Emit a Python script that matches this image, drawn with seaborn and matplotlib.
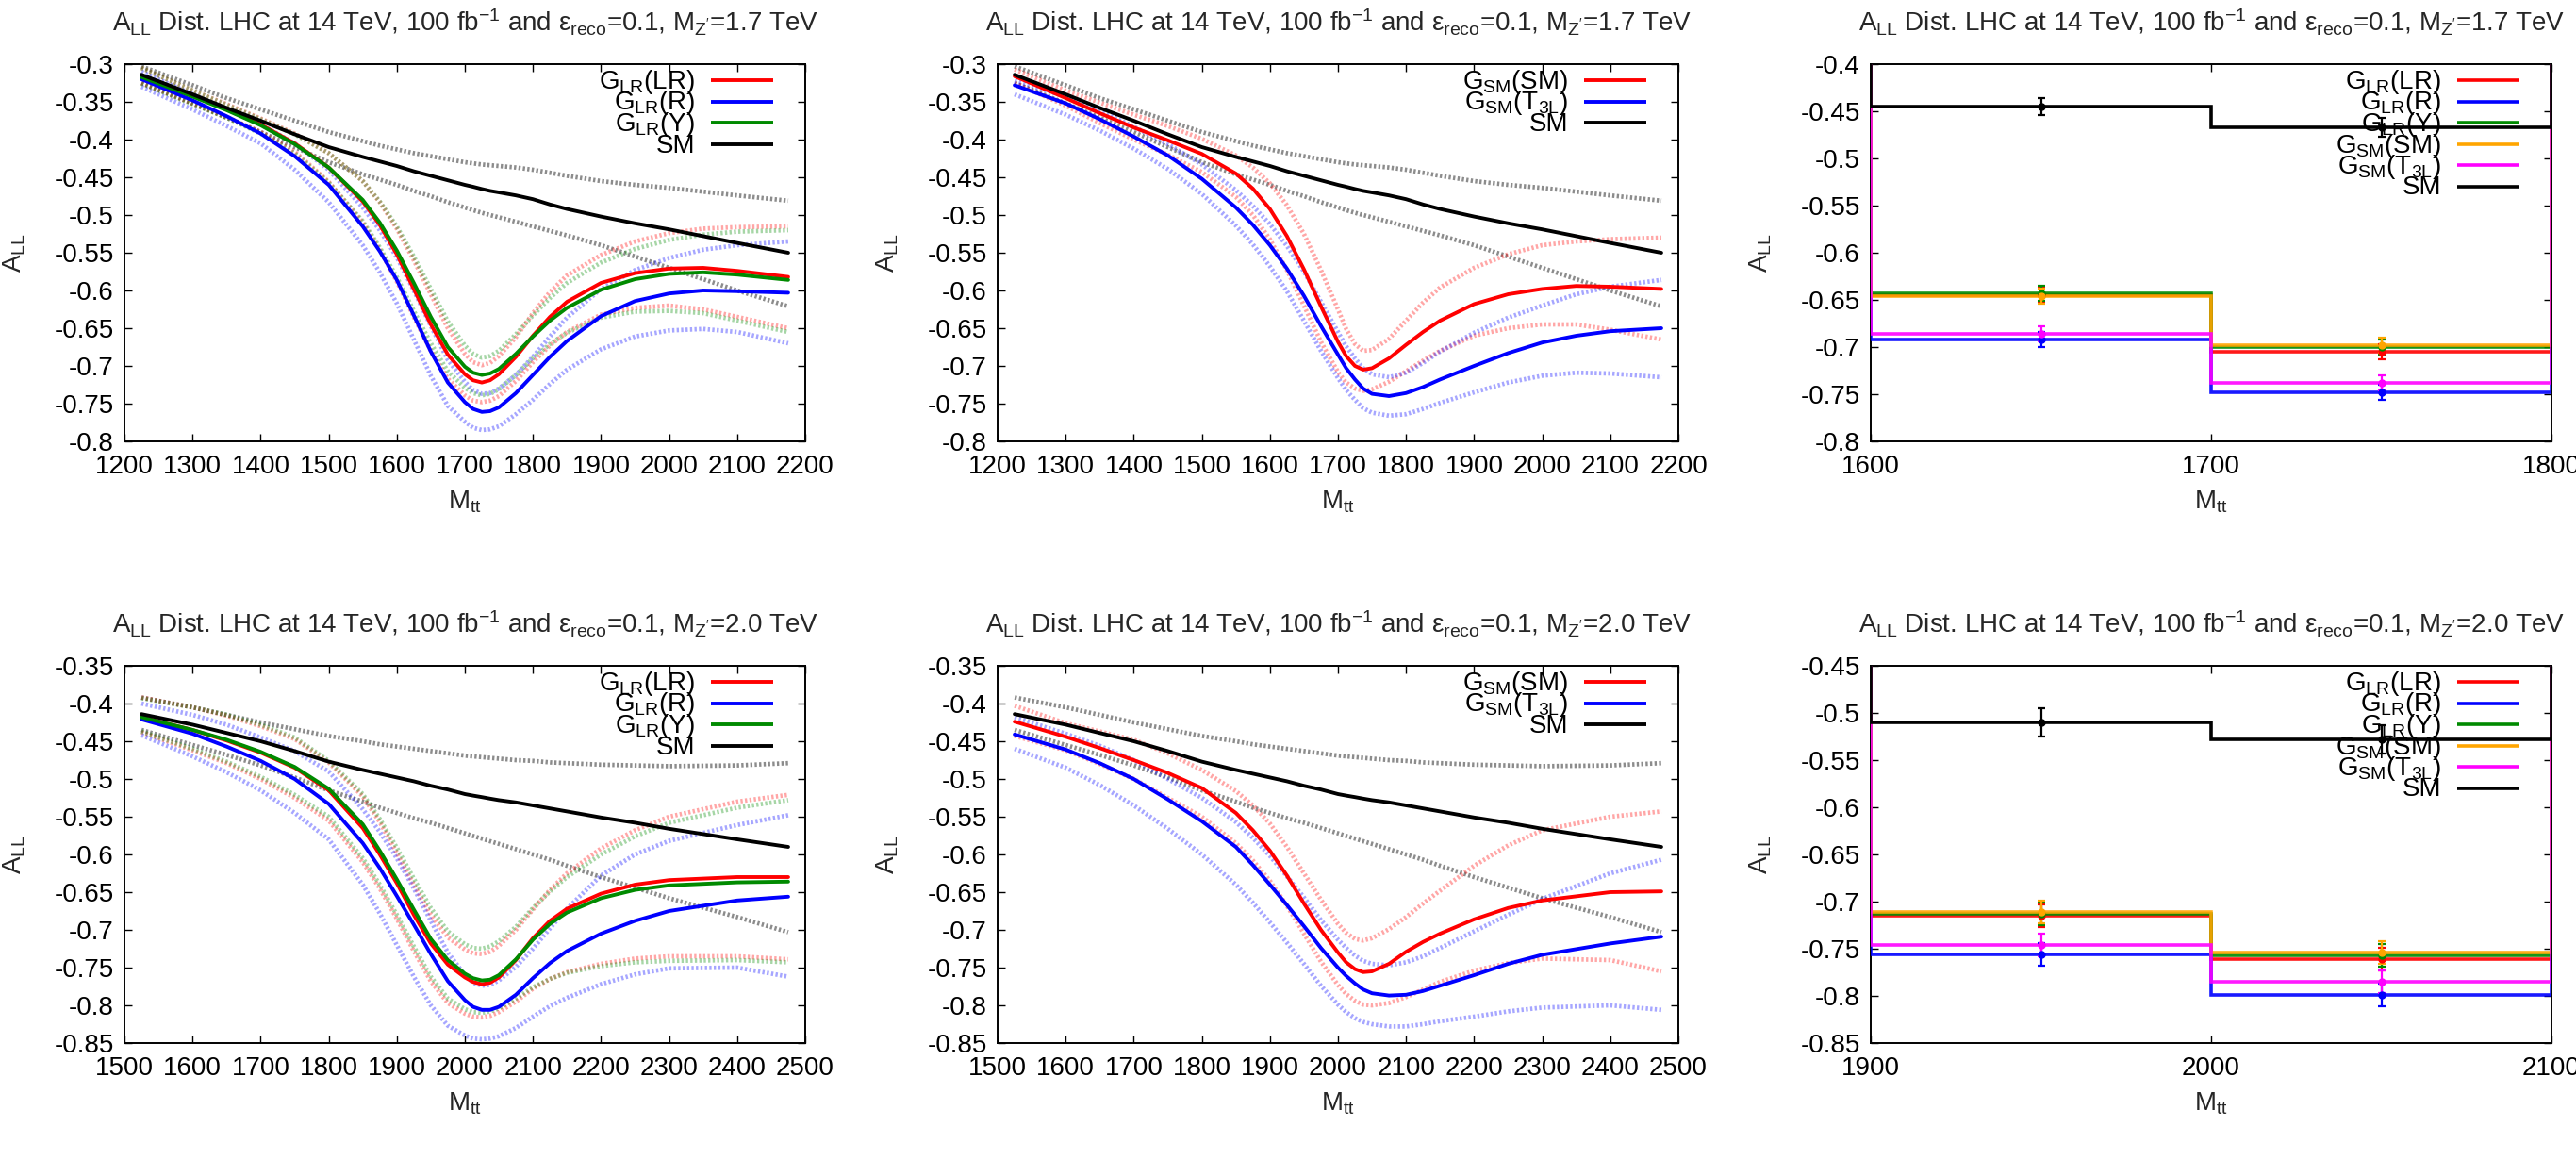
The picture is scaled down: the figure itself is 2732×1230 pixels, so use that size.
import numpy as np
import pandas as pd
import matplotlib
matplotlib.use("Agg")
import matplotlib.pyplot as plt
import seaborn as sns

# ---------------- data ----------------
mass_top = [1225, 1300, 1350, 1400, 1450, 1500, 1550, 1575, 1600, 1625, 1650, 1675, 1700, 1712,
            1725, 1737, 1750, 1775, 1800, 1825, 1850, 1900, 1950, 2000, 2050, 2100, 2175]

sm_top = [-0.314, -0.340, -0.358, -0.375, -0.393, -0.410, -0.423, -0.429, -0.435, -0.442, -0.448, -0.454, -0.460, -0.4625,
          -0.4655, -0.468, -0.470, -0.474, -0.479, -0.486, -0.492, -0.502, -0.511, -0.519, -0.528, -0.537, -0.550]
sm_top_hi = [-0.303, -0.328, -0.345, -0.360, -0.375, -0.390, -0.402, -0.408, -0.413, -0.418, -0.422, -0.426, -0.430, -0.4315,
             -0.433, -0.434, -0.435, -0.437, -0.440, -0.444, -0.448, -0.455, -0.460, -0.464, -0.469, -0.474, -0.481]
sm_top_lo = [-0.325, -0.352, -0.371, -0.390, -0.410, -0.430, -0.446, -0.453, -0.460, -0.468, -0.475, -0.483, -0.490, -0.4935,
             -0.497, -0.500, -0.503, -0.509, -0.515, -0.521, -0.527, -0.540, -0.555, -0.570, -0.585, -0.600, -0.621]

lr_top = [-0.316, -0.342, -0.360, -0.380, -0.405, -0.437, -0.482, -0.513, -0.552, -0.598, -0.645, -0.685, -0.711, -0.719,
          -0.722, -0.719, -0.711, -0.688, -0.660, -0.635, -0.615, -0.590, -0.577, -0.571, -0.570, -0.574, -0.582]
lr_top_hi = [-0.305, -0.335, -0.353, -0.372, -0.392, -0.418, -0.455, -0.483, -0.518, -0.560, -0.605, -0.650, -0.684, -0.695,
             -0.699, -0.696, -0.687, -0.662, -0.630, -0.602, -0.580, -0.553, -0.535, -0.524, -0.518, -0.516, -0.515]
lr_top_lo = [-0.325, -0.352, -0.370, -0.390, -0.416, -0.456, -0.510, -0.546, -0.588, -0.635, -0.680, -0.717, -0.739, -0.746,
             -0.748, -0.746, -0.740, -0.720, -0.695, -0.673, -0.655, -0.632, -0.623, -0.620, -0.625, -0.635, -0.650]

y_top = [-0.317, -0.343, -0.361, -0.381, -0.406, -0.437, -0.480, -0.510, -0.547, -0.590, -0.635, -0.675, -0.701, -0.709,
         -0.712, -0.710, -0.704, -0.684, -0.661, -0.640, -0.623, -0.599, -0.585, -0.578, -0.576, -0.579, -0.586]
y_top_hi = [-0.305, -0.335, -0.354, -0.373, -0.393, -0.418, -0.455, -0.482, -0.515, -0.555, -0.598, -0.641, -0.673, -0.684,
            -0.689, -0.687, -0.680, -0.658, -0.633, -0.610, -0.590, -0.563, -0.545, -0.533, -0.526, -0.522, -0.520]
y_top_lo = [-0.326, -0.353, -0.371, -0.392, -0.418, -0.457, -0.508, -0.543, -0.582, -0.627, -0.670, -0.707, -0.729, -0.736,
            -0.739, -0.737, -0.731, -0.712, -0.690, -0.671, -0.656, -0.636, -0.628, -0.627, -0.630, -0.640, -0.655]

r_top = [-0.320, -0.348, -0.369, -0.392, -0.422, -0.460, -0.515, -0.548, -0.586, -0.633, -0.681, -0.722, -0.748, -0.757,
         -0.761, -0.760, -0.755, -0.736, -0.712, -0.688, -0.667, -0.634, -0.614, -0.604, -0.600, -0.601, -0.603]
r_top_hi = [-0.310, -0.340, -0.360, -0.380, -0.405, -0.440, -0.490, -0.520, -0.556, -0.600, -0.647, -0.692, -0.721, -0.732,
            -0.737, -0.736, -0.730, -0.712, -0.688, -0.661, -0.636, -0.598, -0.573, -0.557, -0.546, -0.540, -0.535]
r_top_lo = [-0.330, -0.360, -0.382, -0.405, -0.440, -0.483, -0.540, -0.576, -0.617, -0.665, -0.713, -0.753, -0.774, -0.782,
            -0.785, -0.784, -0.780, -0.764, -0.745, -0.724, -0.705, -0.678, -0.661, -0.653, -0.651, -0.655, -0.670]

gsm_top = [-0.316, -0.345, -0.365, -0.384, -0.401, -0.419, -0.445, -0.465, -0.492, -0.528, -0.572, -0.621, -0.668, -0.687,
           -0.700, -0.705, -0.703, -0.690, -0.672, -0.655, -0.640, -0.618, -0.605, -0.598, -0.594, -0.595, -0.598]
gsm_top_hi = [-0.307, -0.335, -0.351, -0.367, -0.382, -0.399, -0.421, -0.437, -0.458, -0.487, -0.525, -0.573, -0.625, -0.651,
              -0.671, -0.680, -0.679, -0.664, -0.640, -0.616, -0.596, -0.570, -0.552, -0.540, -0.535, -0.532, -0.530]
gsm_top_lo = [-0.325, -0.355, -0.378, -0.400, -0.420, -0.443, -0.476, -0.500, -0.532, -0.573, -0.620, -0.668, -0.708, -0.722,
              -0.730, -0.733, -0.731, -0.721, -0.707, -0.693, -0.680, -0.660, -0.650, -0.645, -0.645, -0.652, -0.665]

t3l_top = [-0.328, -0.352, -0.373, -0.396, -0.421, -0.452, -0.490, -0.513, -0.540, -0.571, -0.607, -0.647, -0.685, -0.703,
           -0.718, -0.730, -0.737, -0.740, -0.736, -0.728, -0.718, -0.700, -0.683, -0.669, -0.660, -0.654, -0.650]
t3l_top_hi = [-0.322, -0.343, -0.362, -0.383, -0.406, -0.433, -0.467, -0.488, -0.512, -0.541, -0.575, -0.615, -0.655, -0.674,
              -0.690, -0.703, -0.711, -0.715, -0.709, -0.696, -0.681, -0.656, -0.636, -0.620, -0.605, -0.595, -0.586]
t3l_top_lo = [-0.340, -0.367, -0.388, -0.412, -0.439, -0.472, -0.514, -0.539, -0.568, -0.601, -0.640, -0.680, -0.716, -0.732,
              -0.745, -0.756, -0.762, -0.766, -0.764, -0.757, -0.749, -0.735, -0.722, -0.713, -0.709, -0.710, -0.715]

mass_bot = [1525, 1600, 1650, 1700, 1750, 1800, 1850, 1875, 1900, 1925, 1950, 1975, 2000,
            2012, 2025, 2037, 2050, 2075, 2100, 2125, 2150, 2200, 2250, 2300, 2400, 2475]

sm_bot = [-0.414, -0.428, -0.439, -0.450, -0.463, -0.477, -0.488, -0.493, -0.498, -0.503, -0.509, -0.514, -0.520,
          -0.522, -0.524, -0.526, -0.528, -0.531, -0.535, -0.539, -0.543, -0.551, -0.558, -0.566, -0.580, -0.590]
sm_bot_hi = [-0.392, -0.405, -0.415, -0.425, -0.434, -0.443, -0.450, -0.454, -0.457, -0.460, -0.463, -0.466, -0.469,
             -0.470, -0.471, -0.472, -0.473, -0.475, -0.476, -0.478, -0.479, -0.481, -0.482, -0.483, -0.482, -0.479]
sm_bot_lo = [-0.435, -0.455, -0.468, -0.482, -0.498, -0.515, -0.530, -0.538, -0.545, -0.552, -0.558, -0.565, -0.572,
             -0.5755, -0.579, -0.5825, -0.586, -0.593, -0.600, -0.607, -0.615, -0.630, -0.644, -0.658, -0.683, -0.703]

lr_bot = [-0.418, -0.435, -0.449, -0.465, -0.485, -0.515, -0.565, -0.600, -0.638, -0.680, -0.718, -0.746, -0.763,
          -0.769, -0.772, -0.770, -0.763, -0.740, -0.711, -0.688, -0.672, -0.652, -0.640, -0.634, -0.630, -0.630]
lr_bot_hi = [-0.392, -0.405, -0.416, -0.430, -0.447, -0.478, -0.523, -0.557, -0.598, -0.640, -0.680, -0.710, -0.726,
             -0.731, -0.732, -0.729, -0.721, -0.700, -0.673, -0.647, -0.625, -0.592, -0.568, -0.550, -0.530, -0.521]
lr_bot_lo = [-0.438, -0.462, -0.479, -0.500, -0.525, -0.555, -0.610, -0.645, -0.685, -0.728, -0.768, -0.797, -0.811,
             -0.815, -0.816, -0.814, -0.809, -0.795, -0.778, -0.765, -0.756, -0.745, -0.738, -0.735, -0.735, -0.739]

y_bot = [-0.418, -0.435, -0.448, -0.464, -0.484, -0.513, -0.560, -0.595, -0.633, -0.673, -0.712, -0.740, -0.758,
         -0.764, -0.767, -0.766, -0.760, -0.739, -0.713, -0.692, -0.677, -0.658, -0.647, -0.641, -0.637, -0.636]
y_bot_hi = [-0.393, -0.405, -0.415, -0.428, -0.445, -0.476, -0.520, -0.553, -0.591, -0.632, -0.671, -0.702, -0.719,
            -0.724, -0.725, -0.722, -0.715, -0.696, -0.671, -0.649, -0.630, -0.600, -0.576, -0.558, -0.538, -0.528]
y_bot_lo = [-0.437, -0.460, -0.477, -0.497, -0.521, -0.550, -0.605, -0.640, -0.680, -0.722, -0.762, -0.791, -0.805,
            -0.809, -0.810, -0.808, -0.804, -0.791, -0.776, -0.765, -0.757, -0.748, -0.743, -0.741, -0.740, -0.743]

r_bot = [-0.421, -0.440, -0.457, -0.476, -0.500, -0.533, -0.585, -0.618, -0.655, -0.693, -0.732, -0.768, -0.793,
         -0.802, -0.806, -0.806, -0.802, -0.786, -0.764, -0.744, -0.728, -0.705, -0.688, -0.675, -0.661, -0.656]
r_bot_hi = [-0.400, -0.415, -0.428, -0.445, -0.463, -0.490, -0.540, -0.570, -0.605, -0.645, -0.688, -0.730, -0.760,
            -0.770, -0.774, -0.773, -0.767, -0.749, -0.725, -0.698, -0.672, -0.628, -0.600, -0.582, -0.561, -0.548]
r_bot_lo = [-0.442, -0.470, -0.491, -0.515, -0.545, -0.580, -0.640, -0.678, -0.720, -0.762, -0.800, -0.827, -0.840,
            -0.844, -0.845, -0.844, -0.841, -0.830, -0.815, -0.801, -0.790, -0.772, -0.759, -0.751, -0.750, -0.762]

gsm_bot = [-0.424, -0.444, -0.459, -0.475, -0.492, -0.512, -0.545, -0.568, -0.595, -0.628, -0.665, -0.700, -0.730,
           -0.743, -0.752, -0.756, -0.755, -0.745, -0.729, -0.716, -0.705, -0.686, -0.671, -0.661, -0.650, -0.649]
gsm_bot_hi = [-0.403, -0.426, -0.437, -0.448, -0.466, -0.488, -0.516, -0.535, -0.559, -0.590, -0.625, -0.660, -0.692,
              -0.704, -0.712, -0.714, -0.711, -0.699, -0.683, -0.665, -0.648, -0.615, -0.588, -0.568, -0.550, -0.543]
gsm_bot_lo = [-0.443, -0.462, -0.480, -0.500, -0.525, -0.550, -0.585, -0.608, -0.635, -0.668, -0.705, -0.742, -0.773,
              -0.785, -0.794, -0.799, -0.800, -0.797, -0.789, -0.779, -0.769, -0.754, -0.744, -0.738, -0.740, -0.755]

t3l_bot = [-0.441, -0.461, -0.479, -0.500, -0.527, -0.556, -0.590, -0.614, -0.640, -0.667, -0.695, -0.724, -0.750,
           -0.761, -0.771, -0.779, -0.784, -0.787, -0.786, -0.781, -0.774, -0.760, -0.745, -0.733, -0.718, -0.709]
t3l_bot_hi = [-0.418, -0.440, -0.456, -0.475, -0.500, -0.525, -0.557, -0.578, -0.602, -0.629, -0.657, -0.687, -0.713,
              -0.724, -0.734, -0.741, -0.745, -0.747, -0.743, -0.735, -0.724, -0.702, -0.680, -0.659, -0.625, -0.607]
t3l_bot_lo = [-0.460, -0.485, -0.508, -0.535, -0.566, -0.600, -0.640, -0.664, -0.690, -0.717, -0.745, -0.774, -0.799,
              -0.809, -0.817, -0.822, -0.825, -0.828, -0.828, -0.825, -0.821, -0.815, -0.808, -0.803, -0.800, -0.806]

# binned A_LL (two bins per panel)
bin_edges_top = [1600, 1700, 1800]
bin_centers_top = [1650, 1750]
bin_top_lr = [-0.645, -0.705]
bin_top_r = [-0.692, -0.748]
bin_top_y = [-0.643, -0.700]
bin_top_gsm = [-0.646, -0.698]
bin_top_t3l = [-0.686, -0.738]
bin_top_sm = [-0.445, -0.467]
err_top_col = [0.008, 0.008]
err_top_sm = [0.009, 0.010]

bin_edges_bot = [1900, 2000, 2100]
bin_centers_bot = [1950, 2050]
bin_bot_lr = [-0.715, -0.761]
bin_bot_r = [-0.756, -0.799]
bin_bot_y = [-0.713, -0.757]
bin_bot_gsm = [-0.711, -0.754]
bin_bot_t3l = [-0.746, -0.785]
bin_bot_sm = [-0.510, -0.528]
err_bot_col = [0.012, 0.012]
err_bot_sm = [0.015, 0.015]

# ---------------- style ----------------
sns.set_theme(style="ticks")
plt.rcParams["font.family"] = ["Liberation Sans", "DejaVu Sans"]
plt.rcParams["mathtext.fontset"] = "custom"
plt.rcParams["mathtext.rm"] = "Liberation Sans"
plt.rcParams["mathtext.it"] = "Liberation Sans:italic"
plt.rcParams["mathtext.bf"] = "Liberation Sans:bold"
plt.rcParams["axes.unicode_minus"] = False

FS = 20
RED, BLUE, GREEN, ORANGE, MAGENTA, BLACK = "#ff0000", "#0000ff", "#008a00", "#ffa500", "#ff00ff", "#000000"

lab_lr = r"G$_\mathregular{LR}$(LR)"
lab_r = r"G$_\mathregular{LR}$(R)"
lab_y = r"G$_\mathregular{LR}$(Y)"
lab_gsm = r"G$_\mathregular{SM}$(SM)"
lab_t3l = r"G$_\mathregular{SM}$(T$_\mathregular{3L}$)"
lab_sm = "SM"

def title_for(mz):
    return (r"A$_\mathregular{LL}$ Dist. LHC at 14 TeV, 100 fb$^\mathregular{-1}$ and "
            r"ε$_\mathregular{reco}$=0.1, M$_\mathregular{Z'}$=" + mz + " TeV")

fig = plt.figure(figsize=(27.32, 12.30), dpi=100)
W, H = 2732.0, 1230.0
col_x = [132, 1058, 1984]
aw, ah = 722, 400
row_bottom = [468, 1106]

def make_ax(r, c):
    return fig.add_axes([col_x[c] / W, 1 - row_bottom[r] / H, aw / W, ah / H])

def style_ax(ax, xlim, xticks, ylim, yticks, mz):
    ax.set_xlim(*xlim)
    ax.set_ylim(*ylim)
    ax.set_xticks(xticks)
    ax.set_yticks(yticks)
    ax.set_xticklabels([f"{v:g}" for v in xticks])
    ax.set_yticklabels([f"{round(v, 3):g}" for v in yticks])
    ax.tick_params(direction="in", length=6, width=1.0, top=True, right=True,
                   labelsize=FS, colors="black")
    ax.tick_params(axis="x", pad=10)
    ax.tick_params(axis="y", pad=8)
    for s in ax.spines.values():
        s.set_linewidth(1.4)
        s.set_color("black")
        s.set_visible(True)
    ax.set_title(title_for(mz), fontsize=FS, pad=25)
    ax.set_xlabel(r"M$_\mathregular{tt}$", fontsize=FS)
    ax.set_ylabel(r"A$_\mathregular{LL}$", fontsize=FS)
    ax.xaxis.set_label_coords(0.5, -0.125)
    ax.yaxis.set_label_coords(-0.142, 0.5)
    ax.set_facecolor("white")

def legend(ax, entries, lw):
    y0 = 1 - 17 / ah
    dy = 22.5 / ah
    for i, (lab, col) in enumerate(entries):
        yy = y0 - i * dy
        ax.text(0.838, yy - 9 / ah, lab, transform=ax.transAxes, ha="right", va="baseline",
                fontsize=FS, color="black")
        ax.plot([0.861, 0.953], [yy, yy], transform=ax.transAxes, color=col, lw=lw,
                solid_capstyle="butt", clip_on=False)

def band(ax, x, y, col, alpha):
    sns.lineplot(x=x, y=y, ax=ax, color=col, lw=3.4, alpha=alpha, estimator=None,
                 linestyle=(0, (0.5, 0.5)), legend=False)

def central(ax, x, y, col):
    sns.lineplot(x=x, y=y, ax=ax, color=col, lw=2.8, estimator=None, legend=False)

# ---------- curve panels ----------
curve_panels = [
    (0, 0, mass_top, (1200, 2200), list(range(1200, 2201, 100)), (-0.8, -0.3),
     np.arange(-0.8, -0.299, 0.05), "1.7",
     [(lr_top, lr_top_hi, lr_top_lo, RED), (r_top, r_top_hi, r_top_lo, BLUE),
      (y_top, y_top_hi, y_top_lo, GREEN)],
     (sm_top, sm_top_hi, sm_top_lo),
     [(lab_lr, RED), (lab_r, BLUE), (lab_y, GREEN), (lab_sm, BLACK)]),
    (0, 1, mass_top, (1200, 2200), list(range(1200, 2201, 100)), (-0.8, -0.3),
     np.arange(-0.8, -0.299, 0.05), "1.7",
     [(gsm_top, gsm_top_hi, gsm_top_lo, RED), (t3l_top, t3l_top_hi, t3l_top_lo, BLUE)],
     (sm_top, sm_top_hi, sm_top_lo),
     [(lab_gsm, RED), (lab_t3l, BLUE), (lab_sm, BLACK)]),
    (1, 0, mass_bot, (1500, 2500), list(range(1500, 2501, 100)), (-0.85, -0.35),
     np.arange(-0.85, -0.349, 0.05), "2.0",
     [(lr_bot, lr_bot_hi, lr_bot_lo, RED), (r_bot, r_bot_hi, r_bot_lo, BLUE),
      (y_bot, y_bot_hi, y_bot_lo, GREEN)],
     (sm_bot, sm_bot_hi, sm_bot_lo),
     [(lab_lr, RED), (lab_r, BLUE), (lab_y, GREEN), (lab_sm, BLACK)]),
    (1, 1, mass_bot, (1500, 2500), list(range(1500, 2501, 100)), (-0.85, -0.35),
     np.arange(-0.85, -0.349, 0.05), "2.0",
     [(gsm_bot, gsm_bot_hi, gsm_bot_lo, RED), (t3l_bot, t3l_bot_hi, t3l_bot_lo, BLUE)],
     (sm_bot, sm_bot_hi, sm_bot_lo),
     [(lab_gsm, RED), (lab_t3l, BLUE), (lab_sm, BLACK)]),
]

for (r, c, xs, xlim, xt, ylim, yt, mz, models, sm, leg) in curve_panels:
    ax = make_ax(r, c)
    style_ax(ax, xlim, xt, ylim, yt, mz)
    band(ax, xs, sm[1], BLACK, 0.45)
    band(ax, xs, sm[2], BLACK, 0.45)
    for (cen, hi, lo, col) in models:
        band(ax, xs, hi, col, 0.35)
        band(ax, xs, lo, col, 0.35)
    for (cen, hi, lo, col) in models:
        central(ax, xs, cen, col)
    central(ax, xs, sm[0], BLACK)
    legend(ax, leg, 2.8)

# ---------- binned panels ----------
bin_panels = [
    (0, bin_edges_top, bin_centers_top, (-0.8, -0.4), np.arange(-0.8, -0.399, 0.05), "1.7",
     [(bin_top_lr, RED), (bin_top_r, BLUE), (bin_top_y, GREEN), (bin_top_gsm, ORANGE),
      (bin_top_t3l, MAGENTA)], bin_top_sm, err_top_col, err_top_sm),
    (1, bin_edges_bot, bin_centers_bot, (-0.85, -0.45), np.arange(-0.85, -0.449, 0.05), "2.0",
     [(bin_bot_lr, RED), (bin_bot_r, BLUE), (bin_bot_y, GREEN), (bin_bot_gsm, ORANGE),
      (bin_bot_t3l, MAGENTA)], bin_bot_sm, err_bot_col, err_bot_sm),
]

for (r, edges, centers, ylim, yt, mz, series, smv, ecol, esm) in bin_panels:
    ax = make_ax(r, 2)
    style_ax(ax, (edges[0], edges[-1]), edges, ylim, yt, mz)
    for vals, col in series + [(smv, BLACK)]:
        ax.stairs(vals, edges, baseline=0, color=col, lw=2.6,
                  alpha=0.9 if col != BLACK else 1, zorder=3)
    for vals, col in series:
        ax.errorbar(centers, vals, yerr=ecol, fmt="o", ms=5, color=col, ecolor=col,
                    elinewidth=1.6, capsize=3, capthick=1.6, zorder=4)
    ax.errorbar(centers, smv, yerr=esm, fmt="o", ms=5, color=BLACK, ecolor=BLACK,
                elinewidth=1.6, capsize=3, capthick=1.6, zorder=4)
    legend(ax, [(lab_lr, RED), (lab_r, BLUE), (lab_y, GREEN), (lab_gsm, ORANGE),
                (lab_t3l, MAGENTA), (lab_sm, BLACK)], 2.6)

fig.savefig("out.png", dpi=100, facecolor="white")
